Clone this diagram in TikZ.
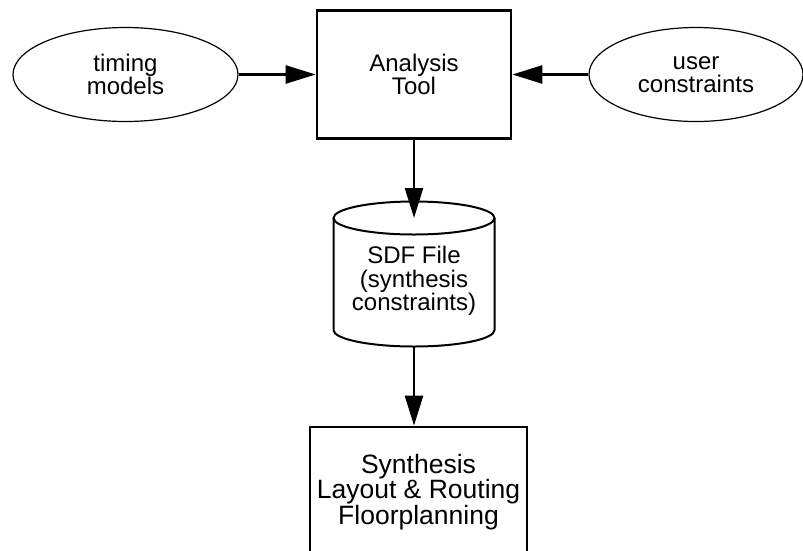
\documentclass[tikz,border=0pt]{standalone}
\usepackage{fontspec}
\setmainfont{Liberation Sans}
\usetikzlibrary{arrows.meta,shapes.geometric}

\tikzset{
  src/.style={ellipse, draw, line width=1.2pt, minimum height=94pt, inner sep=0pt,
    align=center, font=\fontsize{24}{23.5}\selectfont},
  tool/.style={rectangle, draw, line width=2.7pt, inner sep=0pt, align=center},
  flow/.style={-{Triangle[length=30pt,width=18pt]}, line width=2.5pt},
  cyl/.style={line width=2pt}
}

\begin{document}
\begin{tikzpicture}[x=1pt,y=-1pt]
  \useasboundingbox (0,0) rectangle (803,550);
  \clip (0,0) rectangle (803,550);
  \node[src, minimum width=225pt] (timing) at (125.5,74.5) {timing\\models};
  \node[src, minimum width=214pt] (user) at (696,74.5) {user\\constraints};
  \node[tool, minimum width=194pt, minimum height=128pt,
    font=\fontsize{24}{23.5}\selectfont] (analysis) at (414,74.5) {Analysis\\Tool};
  % SDF file as a cylinder
  \coordinate (sdftop) at (414,218);
  \coordinate (sdfbot) at (414,346.5);
  \draw[cyl] (333.5,218) -- (333.5,330)
    arc[start angle=180, end angle=0, x radius=80.5, y radius=16.5] -- (494.5,218);
  \draw[cyl] (sdftop) ellipse[x radius=80.5, y radius=16.5];
  \node[align=center, font=\fontsize{24}{23.5}\selectfont] (sdf) at (414,281)
    {SDF File\\(synthesis\\constraints)};
  \node[tool, minimum width=217pt, minimum height=130pt,
    font=\fontsize{26.5}{24}\selectfont] (synth) at (418.5,492)
    {Synthesis\\Layout \& Routing\\Floorplanning};
  \path[flow]
  (timing) edge (analysis)
  (user) edge (analysis)
  (analysis) edge (sdftop)
  (sdfbot) edge (sdfbot |- synth.north);
\end{tikzpicture}
\end{document}
